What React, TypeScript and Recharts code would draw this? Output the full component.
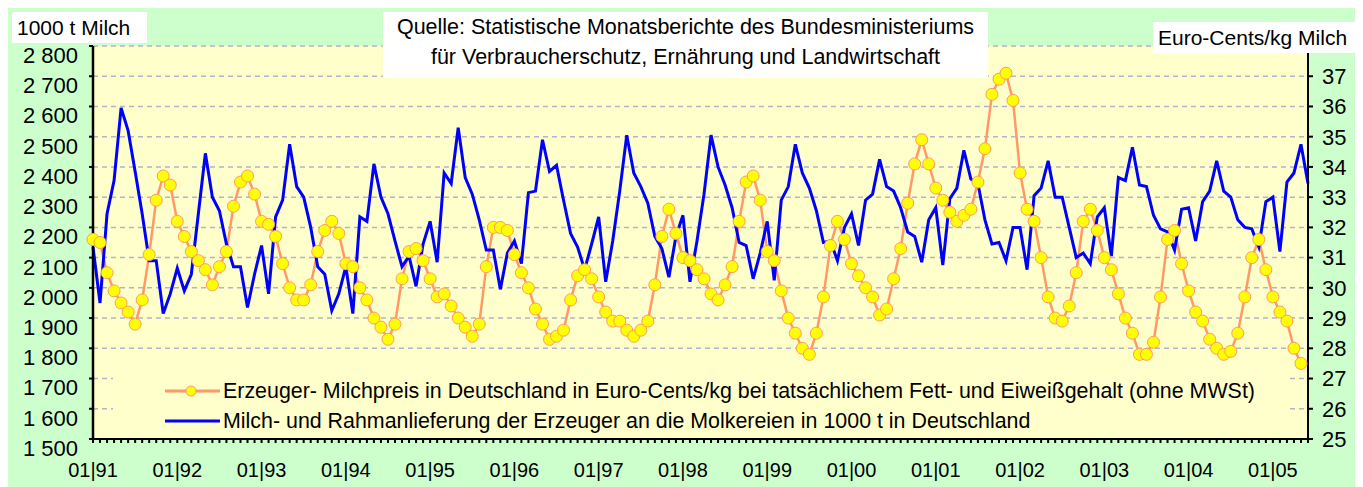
import { LineChart, Line, XAxis, YAxis, CartesianGrid, Legend } from "recharts";

const FONT = '"Liberation Sans", Arial, sans-serif';

const years = ["91", "92", "93", "94", "95", "96", "97", "98", "99", "00", "01", "02", "03", "04", "05"];
const monthNums = ["01", "02", "03", "04", "05", "06", "07", "08", "09", "10", "11", "12"];

// Milch- und Rahmanlieferung, 1000 t (Jan 1991 - Jun 2005)
const milk = [
  2135, 1950, 2245, 2355, 2595, 2520, 2385, 2245, 2090, 2090, 1915, 1980,
  2065, 1990, 2045, 2245, 2445, 2300, 2255, 2145, 2070, 2070, 1935, 2045,
  2140, 1980, 2235, 2290, 2475, 2335, 2300, 2200, 2070, 2045, 1925, 1980,
  2070, 1915, 2235, 2220, 2410, 2300, 2245, 2155, 2070, 2105, 2005, 2145,
  2220, 2085, 2380, 2345, 2530, 2365, 2310, 2225, 2125, 2125, 1995, 2115,
  2155, 2080, 2315, 2320, 2490, 2385, 2405, 2290, 2180, 2135, 2060, 2145,
  2235, 2020, 2155, 2320, 2505, 2380, 2335, 2280, 2170, 2130, 2035, 2170,
  2240, 2020, 2155, 2310, 2505, 2400, 2340, 2265, 2150, 2140, 2030, 2115,
  2220, 2025, 2290, 2335, 2475, 2380, 2330, 2255, 2150, 2155, 2090, 2200,
  2245, 2140, 2290, 2310, 2425, 2335, 2320, 2265, 2185, 2170, 2085, 2225,
  2265, 2075, 2295, 2330, 2455, 2360, 2345, 2225, 2145, 2150, 2090, 2200,
  2200, 2060, 2305, 2330, 2420, 2300, 2300, 2200, 2100, 2115, 2080, 2235,
  2265, 2105, 2365, 2355, 2465, 2340, 2335, 2240, 2195, 2185, 2125, 2260,
  2265, 2155, 2285, 2320, 2420, 2320, 2300, 2225, 2200, 2195, 2135, 2285,
  2300, 2120, 2350, 2380, 2475, 2345,
];

// Erzeuger-Milchpreis, Euro-Cents/kg (Jan 1991 - Mai 2005)
const price = [
  31.6, 31.5, 30.5, 29.9, 29.5, 29.2, 28.8, 29.6, 31.1, 32.9, 33.7, 33.4,
  32.2, 31.7, 31.2, 30.9, 30.6, 30.1, 30.7, 31.2, 32.7, 33.5, 33.7, 33.1,
  32.2, 32.1, 31.7, 30.8, 30.0, 29.6, 29.6, 30.1, 31.2, 31.9, 32.2, 31.8,
  30.8, 30.7, 30.0, 29.6, 29.0, 28.7, 28.3, 28.8, 30.3, 31.2, 31.3, 30.9,
  30.3, 29.7, 29.8, 29.4, 29.0, 28.7, 28.4, 28.8, 30.7, 32.0, 32.0, 31.9,
  31.1, 30.5, 30.0, 29.3, 28.8, 28.3, 28.4, 28.6, 29.6, 30.4, 30.6, 30.3,
  29.7, 29.2, 28.9, 28.9, 28.6, 28.4, 28.6, 28.9, 30.1, 31.7, 32.6, 31.8,
  31.0, 30.9, 30.6, 30.3, 29.8, 29.6, 30.1, 30.7, 32.2, 33.5, 33.7, 32.9,
  31.2, 30.9, 29.9, 29.0, 28.5, 28.0, 27.8, 28.5, 29.7, 31.4, 32.2, 31.6,
  30.8, 30.4, 30.0, 29.7, 29.1, 29.3, 30.3, 31.3, 32.8, 34.1, 34.9, 34.1,
  33.3, 32.9, 32.5, 32.2, 32.4, 32.6, 33.5, 34.6, 36.4, 36.9, 37.1, 36.2,
  33.8, 32.6, 32.2, 31.0, 29.7, 29.0, 28.9, 29.4, 30.5, 32.2, 32.6, 31.9,
  31.0, 30.6, 29.8, 29.0, 28.5, 27.8, 27.8, 28.2, 29.7, 31.6, 31.9, 30.8,
  29.9, 29.2, 28.9, 28.3, 28.0, 27.8, 27.9, 28.5, 29.7, 31.0, 31.6, 30.6,
  29.7, 29.2, 28.9, 28.0, 27.5,
];

const leftTicks = [1500, 1600, 1700, 1800, 1900, 2000, 2100, 2200, 2300, 2400, 2500, 2600, 2700, 2800];
const rightTicks = [25, 26, 27, 28, 29, 30, 31, 32, 33, 34, 35, 36, 37];

const priceName =
  "Erzeuger- Milchpreis in Deutschland in Euro-Cents/kg bei tatsächlichem Fett- und Eiweißgehalt (ohne MWSt)";
const milkName = "Milch- und Rahmanlieferung der Erzeuger an die Molkereien in 1000 t in Deutschland";

const months = years.flatMap((y) => monthNums.map((m) => `${m}|${y}`)).slice(0, milk.length);
const table = months.map((m, i) => ({ m, milk: milk[i], price: price[i] }));

function LeftTick(props: any) {
  const { x, y, payload } = props;
  const v = payload.value as number;
  const s = `${Math.floor(v / 1000)} ${String(v % 1000).padStart(3, "0")}`;
  return (
    <text x={x} y={y + 9} dy="0.36em" textAnchor="end" fontFamily={FONT} fontSize={22} fill="#000">
      {s}
    </text>
  );
}

function LegendBox(props: any) {
  const items = props.payload ?? [];
  return (
    <div style={{ background: "#FFFFCC", width: 1177, height: 70, paddingTop: 9, paddingLeft: 52, boxSizing: "border-box" }}>
      {items.map((entry: any) => (
        <div
          key={entry.value}
          style={{ display: "flex", alignItems: "center", height: 30, fontFamily: FONT, fontSize: 21.4, color: "#000", whiteSpace: "nowrap" }}
        >
          <svg width={55} height={14} style={{ marginRight: 3 }}>
            <line x1={0} x2={55} y1={7} y2={7} stroke={entry.color} strokeWidth={3} />
            {entry.dataKey === "price" && <circle cx={26} cy={7} r={5} fill="#FFFF00" stroke="#FF9966" />}
          </svg>
          <span>{entry.value}</span>
        </div>
      ))}
    </div>
  );
}

const boxStyle = {
  position: "absolute" as const,
  background: "#FFFFFF",
  fontFamily: FONT,
  color: "#000",
  zIndex: 5,
  boxSizing: "border-box" as const,
};

export default function App() {
  return (
    <div style={{ position: "relative", width: 1350, height: 482, marginTop: -3, background: "#CCFFCC" }}>
      <LineChart width={1350} height={482} data={table} margin={{ top: 41, right: 0, bottom: 0, left: 0 }}>
        <CartesianGrid
          yAxisId="left"
          vertical={false}
          fill="#FFFFCC"
          stroke="#B4B4C8"
          strokeWidth={1.5}
          strokeDasharray="5 4"
        />
        <XAxis
          dataKey="m"
          interval={0}
          height={48}
          tickFormatter={(v: string) => (v.startsWith("01|") ? v : "")}
          tick={{ fill: "#000", fontSize: 20, fontFamily: FONT }}
          tickSize={4}
          tickMargin={20}
          axisLine={{ stroke: "#000", strokeWidth: 2 }}
          tickLine={{ stroke: "#000", strokeWidth: 2 }}
        />
        <YAxis
          yAxisId="left"
          orientation="left"
          width={85}
          domain={[1500, 2800]}
          ticks={leftTicks}
          interval={0}
          tick={<LeftTick />}
          tickSize={4}
          tickMargin={11}
          axisLine={{ stroke: "#000", strokeWidth: 2.5 }}
          tickLine={{ stroke: "#000", strokeWidth: 2 }}
        />
        <YAxis
          yAxisId="right"
          orientation="right"
          width={50}
          domain={[25, 38]}
          ticks={rightTicks}
          interval={0}
          tick={{ fill: "#000", fontSize: 22, fontFamily: FONT }}
          tickSize={5}
          tickMargin={9}
          axisLine={{ stroke: "#000", strokeWidth: 2 }}
          tickLine={{ stroke: "#000", strokeWidth: 2 }}
        />
        <Legend
          content={<LegendBox />}
          layout="horizontal"
          verticalAlign="middle"
          align="center"
          wrapperStyle={{ left: 105, top: 362, width: 1177, height: 70 }}
        />
        <Line
          yAxisId="right"
          type="linear"
          dataKey="price"
          name={priceName}
          stroke="#FF9966"
          strokeWidth={2.5}
          dot={{ r: 6, fill: "#FFFF00", stroke: "#FF9966", strokeWidth: 1 }}
          activeDot={false}
          isAnimationActive={false}
        />
        <Line
          yAxisId="left"
          type="linear"
          dataKey="milk"
          name={milkName}
          stroke="#0000FF"
          strokeWidth={3}
          dot={false}
          activeDot={false}
          isAnimationActive={false}
        />
      </LineChart>

      <div style={{ ...boxStyle, left: 4, top: 7, width: 135, height: 31, fontSize: 21, lineHeight: "31px", paddingLeft: 5 }}>
        1000 t Milch
      </div>
      <div
        style={{ ...boxStyle, left: 375, top: 7, width: 605, height: 66, fontSize: 21.5, lineHeight: "30px", paddingTop: 0, textAlign: "center" }}
      >
        Quelle: Statistische Monatsberichte des Bundesministeriums
        <br />
        für Verbraucherschutz, Ernährung und Landwirtschaft
      </div>
      <div style={{ ...boxStyle, left: 1145, top: 17, width: 205, height: 31, fontSize: 21, lineHeight: "31px", paddingLeft: 5 }}>
        Euro-Cents/kg Milch
      </div>
    </div>
  );
}
